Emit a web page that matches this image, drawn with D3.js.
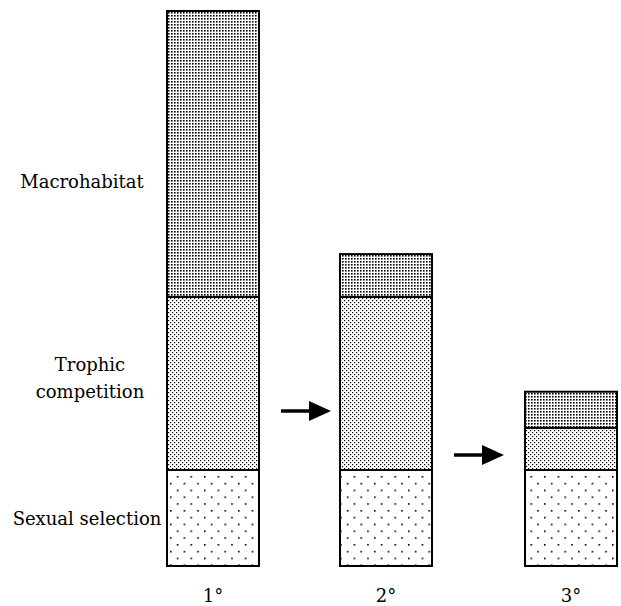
<!DOCTYPE html>
<html><head><meta charset="utf-8">
<script src="https://cdn.jsdelivr.net/npm/d3@7"></script>
<style>body{margin:0;background:#fff}svg{display:block}</style>
</head><body><svg id="c" width="621" height="606"></svg>
<script>
const stages = ["1°", "2°", "3°"];
const components = ["Sexual selection", "Trophic competition", "Macrohabitat"];
const sexualSelection = [17.3, 17.3, 17.3];
const trophicCompetition = [31.2, 31.2, 7.6];
const macrohabitat = [51.5, 7.7, 6.5];

const FONT = "'DejaVu Serif', serif";
const svg = d3.select("#c");
const defs = svg.append("defs");
function pat(id, w, h, dots, s) {
  const p = defs.append("pattern").attr("id", id).attr("patternUnits", "userSpaceOnUse")
    .attr("width", w).attr("height", h);
  p.append("rect").attr("width", w).attr("height", h).attr("fill", "#fff");
  dots.forEach(d => p.append("rect").attr("x", d[0]).attr("y", d[1]).attr("width", s).attr("height", s).attr("fill", "#000"));
}
pat("pMacro", 3, 3, [[0, 0]], 1.6);
pat("pTroph", 4, 4, [[0, 0], [2, 2]], 1.2);
pat("pSex", 13.6, 13.6, [[0, 0], [6.8, 6.8]], 1.6);
const fills = ["url(#pSex)", "url(#pTroph)", "url(#pMacro)"];

const y = d3.scaleLinear().domain([0, 100]).range([566, 11]);
const xc = d3.scaleOrdinal().domain(stages).range([213, 386, 571]);
const bw = 92;

const rows = stages.map((s, i) => ({stage: s, "Sexual selection": sexualSelection[i], "Trophic competition": trophicCompetition[i], "Macrohabitat": macrohabitat[i]}));
const series = d3.stack().keys(components)(rows);

const g = svg.append("g");
series.forEach((ser, k) => {
  g.selectAll(null).data(ser).join("rect")
    .attr("x", d => xc(d.data.stage) - bw / 2)
    .attr("y", d => y(d[1]))
    .attr("width", bw)
    .attr("height", d => y(d[0]) - y(d[1]))
    .attr("fill", fills[k])
    .attr("stroke", "#000").attr("stroke-width", 2);
});

svg.selectAll(null).data(stages).join("text")
  .attr("x", d => xc(d)).attr("y", 602).attr("text-anchor", "middle")
  .attr("font-family", FONT).attr("font-size", 18).text(d => d);

const labelData = [
  {lines: ["Sexual selection"], x: 87, y: 525},
  {lines: ["Trophic", "competition"], x: 90, y: 371},
  {lines: ["Macrohabitat"], x: 82, y: 188}
];
labelData.forEach(l => {
  const t = svg.append("text").attr("text-anchor", "middle")
    .attr("font-family", FONT).attr("font-size", 18);
  l.lines.forEach((ln, i) => t.append("tspan").attr("x", l.x).attr("y", l.y + i * 27).text(ln));
});

function arrow(x1, x2, yy) {
  svg.append("line").attr("x1", x1).attr("x2", x2 - 18).attr("y1", yy).attr("y2", yy)
    .attr("stroke", "#000").attr("stroke-width", 3.5);
  svg.append("path").attr("d", `M${x2 - 22},${yy - 10}L${x2},${yy}L${x2 - 22},${yy + 10}Z`).attr("fill", "#000");
}
arrow(281, 331, 411);
arrow(454, 504, 455);
</script></body></html>
